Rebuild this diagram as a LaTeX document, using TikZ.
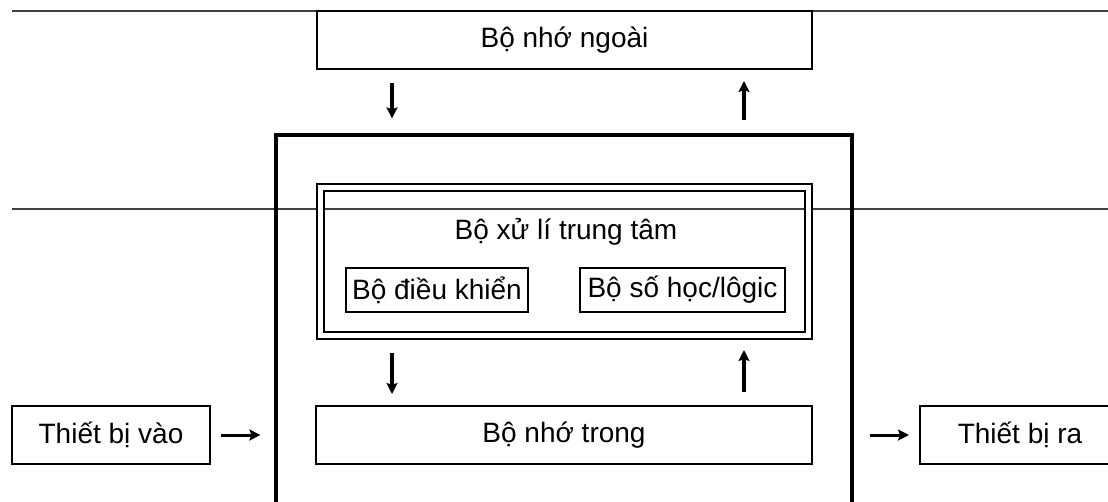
\documentclass[tikz,border=0pt]{standalone}
\usepackage{fontspec}
\setmainfont{Liberation Sans}
\usetikzlibrary{positioning, arrows.meta}
\tikzset{
x=1pt, y=-1pt, % one unit is one pixel of the page, y runs down
>={Stealth[length=11pt, width=11pt, inset=2pt]}, % solid arrow heads
every node/.style={font=\fontsize{28}{32}\selectfont}, % text size of all labels
unit/.style={draw, line width=2pt, inner sep=0pt, minimum height=58pt}, % the long boxes
part/.style={draw, line width=2pt, inner sep=0pt, minimum height=44pt}, % boxes inside the CPU
frame/.style={draw, line width=3.2pt, inner sep=0pt}, % the computer itself
cpubox/.style={draw, double, line width=2pt, double distance=5pt, inner sep=0pt}, % double border
flow/.style={->, line width=3.5pt}, % data flow
side/.style={->, line width=3pt}, % input and output flow
rule/.style={line width=1.2pt, black!75}, % the two page rules
}

\begin{document}
\begin{tikzpicture}
    \useasboundingbox (0,0) rectangle (1108,501);

    % page rules
    \draw[rule] (12,11) -- (1108,11);
    \draw[rule] (12,209) -- (1108,209);

    \node[unit, minimum width=495pt] (ext) at (564.5,40) {Bộ nhớ ngoài};
    \node[frame, minimum width=576pt, minimum height=405pt] (main) at (564,337.5) {};
    \node[cpubox, minimum width=488pt, minimum height=148pt] (cpu) at (564.5,261) {};
    \node (cpulabel) at (566,232) {Bộ xử lí trung tâm};
    \node[part, minimum width=182pt] (ctrl) at (437,290) {Bộ điều khiển};
    \node[part, minimum width=205pt] (alu) at (682.5,290) {Bộ số học/lôgic};
    \node[unit, minimum width=496pt] (ram) at (564,435) {Bộ nhớ trong};
    \node[unit, minimum width=198pt] (input) at (111,435) {Thiết bị vào};
    \node[unit, minimum width=200pt] (output) at (1020,435) {Thiết bị ra};

    \coordinate (dl) at (392,0);
    \coordinate (ur) at (744,0);

    \draw[flow, shorten <=13pt, shorten >=15pt] (ext.south -| dl) -- (main.north -| dl);
    \draw[flow, shorten <=13pt, shorten >=11pt] (main.north -| ur) -- (ext.south -| ur);
    \draw[flow, shorten <=17pt, shorten >=11pt] (cpu.south -| dl) -- (ram.north -| dl);
    \draw[flow, shorten <=13pt, shorten >=14pt] (ram.north -| ur) -- (cpu.south -| ur);
    \draw[side, shorten <=10pt, shorten >=14pt] (input.east) -- (input -| main.west);
    \draw[side, shorten <=16pt, shorten >=10pt] (ram -| main.east) -- (output.west);
\end{tikzpicture}
\end{document}
